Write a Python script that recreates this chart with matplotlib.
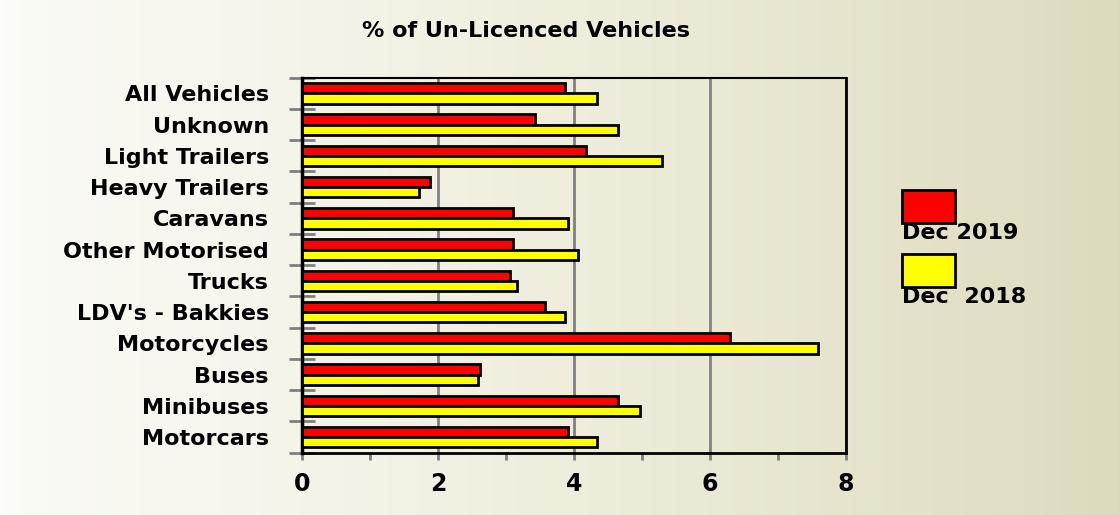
import numpy as np
import matplotlib.pyplot as plt
from matplotlib.patches import Rectangle
from matplotlib.colors import LinearSegmentedColormap

categories = ["All Vehicles", "Unknown", "Light Trailers", "Heavy Trailers",
              "Caravans", "Other Motorised", "Trucks", "LDV's - Bakkies",
              "Motorcycles", "Buses", "Minibuses", "Motorcars"]
dec_2019 = [3.86, 3.42, 4.17, 1.88, 3.10, 3.10, 3.06, 3.58, 6.30, 2.62, 4.65, 3.91]
dec_2018 = [4.34, 4.65, 5.29, 1.72, 3.91, 4.06, 3.16, 3.86, 7.59, 2.58, 4.97, 4.34]
series_labels = ["Dec 2019", "Dec  2018"]
series_colors = ["#ff0000", "#ffff00"]
xticks = [0, 2, 4, 6, 8]

plt.rcParams['font.family'] = ['DejaVu Sans']
plt.rcParams['font.weight'] = 'bold'

fig = plt.figure(figsize=(11.19, 5.15), dpi=100)

# background gradient, light on the left going to khaki on the right
bg = fig.add_axes([0, 0, 1, 1], zorder=-10)
cmap = LinearSegmentedColormap.from_list("bg", ["#fbfbf7", "#efeedd", "#dddbbe"])
bg.imshow(np.linspace(0, 1, 256)[None, :], aspect="auto", cmap=cmap,
          extent=[0, 1, 0, 1])
bg.axis("off")

ax = fig.add_axes([0.27, 0.121, 0.486, 0.728])
ax.set_facecolor("none")

y = np.arange(len(categories))
h = 0.33
ax.barh(y - h / 2, dec_2019, height=h, color=series_colors[0],
        edgecolor="black", linewidth=2, zorder=3)
ax.barh(y + h / 2, dec_2018, height=h, color=series_colors[1],
        edgecolor="black", linewidth=2, zorder=3)

ax.set_xlim(0, 8)
ax.set_ylim(len(categories) - 0.5, -0.5)
ax.set_xticks(xticks)
ax.set_xticks(np.arange(0, 9, 1), minor=True)
ax.set_yticks(y)
ax.set_yticklabels(categories)
ax.set_yticks(np.arange(-0.5, len(categories), 1), minor=True)

ax.xaxis.grid(True, which="major", color="#808080", linewidth=2, zorder=0)
ax.tick_params(axis="x", which="both", direction="out", length=5, width=2,
               color="#808080", labelsize=17, pad=9)
ax.tick_params(axis="y", which="major", length=0, labelsize=16, pad=24)
ax.tick_params(axis="y", which="minor", direction="inout", length=19,
               width=2, color="#808080")

for side, lw in [("left", 2.5), ("bottom", 2), ("right", 2), ("top", 1.5)]:
    ax.spines[side].set_linewidth(lw)
    ax.spines[side].set_color("black")

fig.text(0.47, 0.94, "% of Un-Licenced Vehicles", ha="center", va="center",
         fontsize=16, fontweight="bold")

# legend boxes on the right
for i, (lab, col) in enumerate(zip(series_labels, series_colors)):
    top = 190 + i * 64
    fig.add_artist(Rectangle((902 / 1119, 1 - (top + 33) / 515), 53 / 1119,
                             33 / 515, transform=fig.transFigure,
                             facecolor=col, edgecolor="black", linewidth=2))
    fig.text(902 / 1119, 1 - (top + 43) / 515, lab, ha="left", va="center",
             fontsize=16, fontweight="bold")

fig.savefig("out.png", dpi=100)
